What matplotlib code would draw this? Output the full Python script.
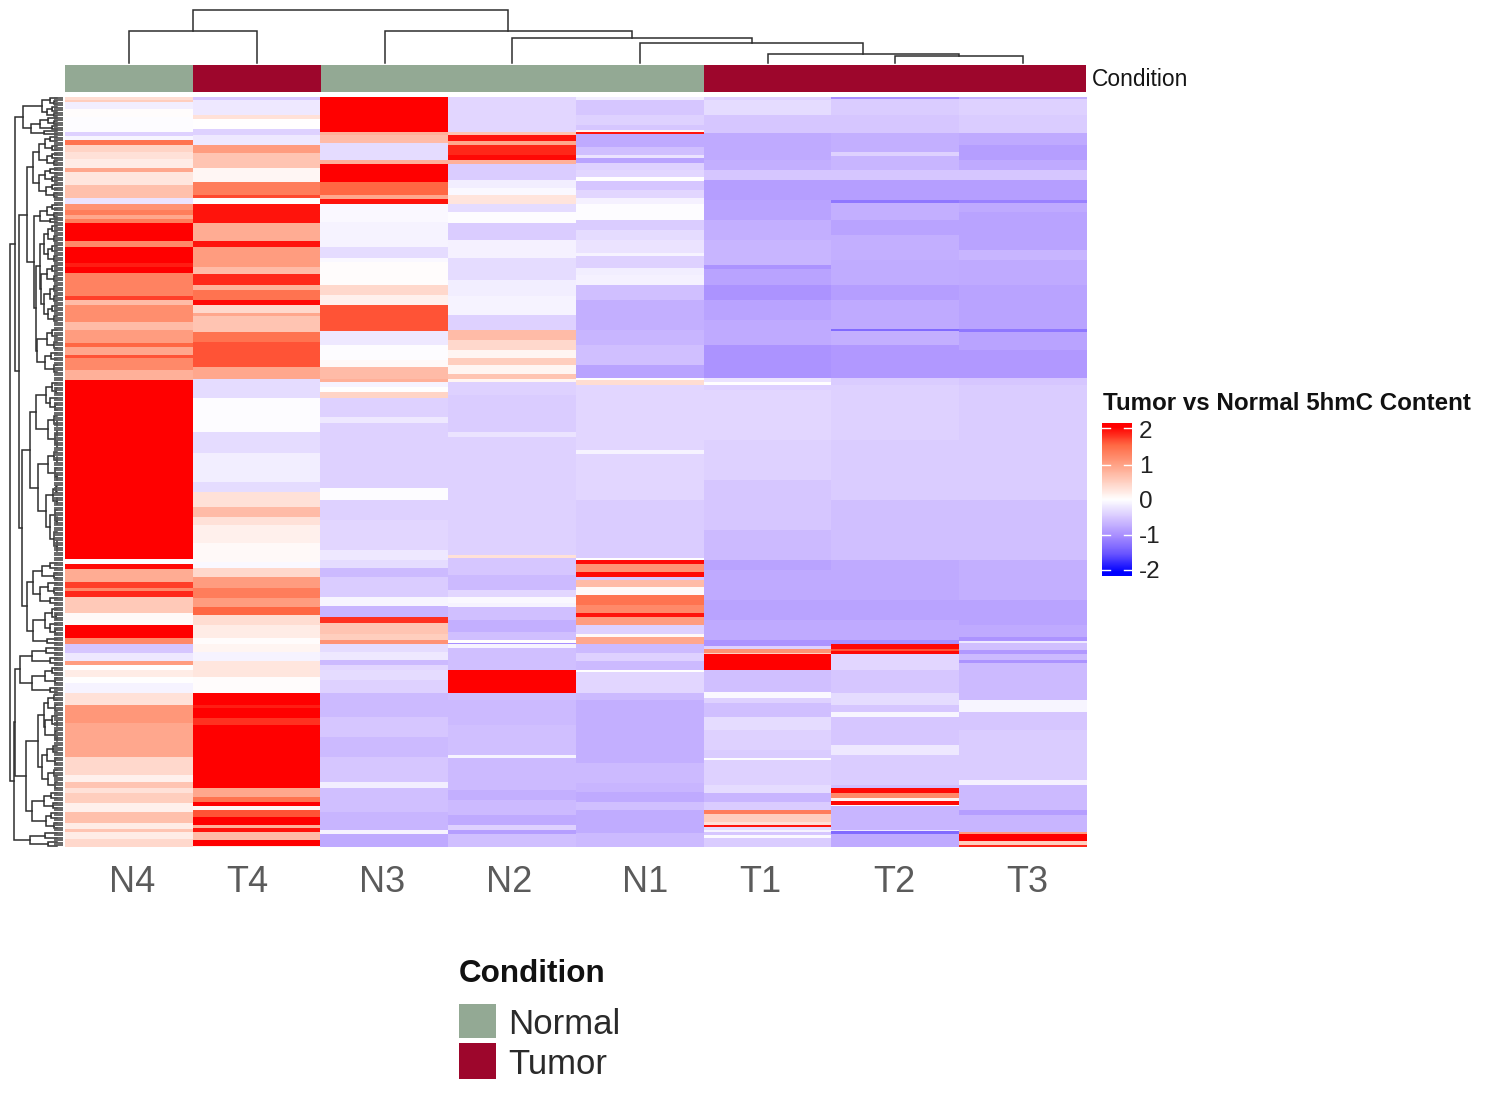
import numpy as np
import matplotlib
matplotlib.use("Agg")
import matplotlib.pyplot as plt
from matplotlib.colors import LinearSegmentedColormap

plt.rcParams['font.family'] = ['Liberation Sans', 'DejaVu Sans']

samples = ['N4', 'T4', 'N3', 'N2', 'N1', 'T1', 'T2', 'T3']
conditions = ['Normal', 'Tumor', 'Normal', 'Normal', 'Normal', 'Tumor', 'Tumor', 'Tumor']
total_rows = 750

# every band: (last row of the band, scaled value)
N4 = [(3,.35),(5,.5),(12,-.15),(20,.03),(35,-.03),(39,-.4),(43,-.08),(48,1.4),(55,.45),(62,.3),(71,.2),(75,.9),(88,.25),(101,.65),(107,-.25),(113,1.1),(118,1.3),(122,.9),(126,1.3),(144,2),(150,1.2),(166,2),(170,1.85),(176,2),(199,1.25),(203,1.7),(208,.7),(225,1.15),(233,.7),(246,1.0),(250,1.5),(258,.9),(261,1.6),(273,1.2),(283,.8),(462,2),(467,-.02),(472,1.95),(485,.85),(491,1.7),(494,1.2),(500,1.8),(516,.55),(528,.05),(541,2),(547,1.2),(556,-.5),(564,-.2),(568,1.0),(573,0),(580,.2),(586,0),(596,-.1),(608,.3),(626,1.05),(660,.9),(678,.4),(685,.15),(691,.6),(696,.3),(706,.5),(715,.15),(726,.65),(732,.2),(735,.6),(742,.2),(750,.4)]
T4 = [(3,-.5),(18,-.2),(22,.3),(32,0),(38,-.4),(48,-.2),(56,1),(71,.6),(85,.08),(98,1.3),(101,1.65),(107,0),(126,1.9),(144,.85),(150,1.9),(170,1.0),(177,.7),(188,1.8),(193,.8),(203,1.4),(208,1.95),(216,.4),(219,.9),(235,.6),(245,1.4),(270,1.6),(282,.9),(301,-.3),(335,-.02),(356,-.3),(385,-.15),(395,-.3),(410,.3),(420,.7),(428,.3),(446,.15),(465,.05),(471,-.05),(480,.4),(491,1.0),(501,1.3),(510,1.0),(518,1.5),(528,.35),(541,.2),(547,.02),(555,.1),(564,-.1),(580,.25),(596,.03),(608,2),(611,1.85),(621,2),(628,1.75),(691,2),(700,.9),(705,1.4),(709,2),(713,.1),(720,1.6),(728,2),(731,.8),(735,1.9),(743,.7),(749,2),(750,.2)]
N3 = [(35,2),(38,.8),(46,.7),(63,-.3),(67,.8),(85,2),(98,1.5),(102,.9),(107,1.9),(125,-.05),(150,-.1),(161,-.3),(165,-.05),(188,.03),(198,.4),(208,.15),(234,1.6),(248,-.2),(263,-.02),(270,.05),(282,.7),(285,.8),(290,-.1),(295,0),(301,.45),(320,-.4),(326,-.2),(391,-.4),(403,-.03),(423,-.4),(453,-.35),(463,-.2),(471,-.3),(480,-.6),(500,-.45),(509,-.08),(520,-.65),(526,1.75),(537,.6),(543,.5),(547,1.1),(555,-.3),(563,-.2),(568,-.6),(573,-.35),(583,-.3),(596,-.4),(620,-.6),(640,-.5),(660,-.6),(685,-.5),(691,-.15),(715,-.55),(733,-.65),(737,-.1),(750,-.75)]
N2 = [(35,-.35),(38,.6),(44,1.9),(48,.9),(58,1.8),(63,1.95),(67,.8),(83,-.45),(91,-.15),(98,-.05),(107,.28),(115,-.3),(126,-.02),(143,-.45),(161,-.12),(183,-.3),(199,-.15),(218,-.1),(233,-.4),(243,.7),(253,.4),(261,.1),(268,.5),(277,.1),(282,.6),(285,.1),(298,-.4),(335,-.45),(340,-.25),(458,-.4),(461,.3),(478,-.5),(493,-.6),(500,-.35),(506,-.05),(510,-.1),(523,-.55),(535,-.7),(543,-.55),(546,0),(547,-1),(551,-.1),(573,-.55),(596,2),(603,-.55),(628,-.6),(658,-.55),(661,-.1),(693,-.6),(703,-.7),(718,-.6),(728,-.75),(733,-.4),(737,-.85),(750,-.55)]
N1 = [(3,-.15),(18,-.5),(28,-.4),(33,-.5),(35,.1),(37,1.9),(50,-.75),(58,-.55),(61,-.25),(66,-.8),(73,-.4),(80,-.35),(84,0),(93,-.5),(101,-.35),(107,-.12),(123,-.02),(133,-.45),(143,-.3),(156,-.25),(159,-.1),(171,-.4),(178,-.15),(188,-.12),(203,-.55),(233,-.7),(248,-.65),(268,-.55),(281,-.8),(283,0),(288,.35),(353,-.35),(357,-.1),(403,-.35),(461,-.45),(463,0),(467,1.95),(475,1.1),(480,1.95),(483,-.5),(490,.7),(498,.05),(508,1.4),(516,1.2),(520,1.9),(528,1.0),(537,-.4),(540,.05),(547,.9),(556,-.6),(564,-.4),(573,-.6),(575,0),(596,-.35),(603,-.6),(666,-.7),(686,-.6),(695,-.65),(705,-.75),(713,-.55),(736,-.72),(750,-.6)]
T1 = [(3,-.4),(18,-.3),(36,-.5),(63,-.75),(73,-.7),(83,-.5),(103,-.85),(123,-.8),(143,-.7),(168,-.65),(172,-.95),(188,-.8),(203,-.95),(223,-.8),(248,-.75),(281,-.95),(285,-.25),(288,0),(293,-.4),(343,-.35),(383,-.4),(433,-.5),(463,-.6),(473,-.8),(503,-.75),(523,-.8),(543,-.75),(549,-.95),(552,-.4),(556,1.1),(557,.5),(573,2),(595,-.55),(601,-.05),(606,-.4),(620,-.55),(633,-.3),(653,-.4),(661,-.45),(663,-.02),(688,-.4),(696,-.3),(705,-.65),(713,-.45),(717,1.3),(725,.5),(728,.3),(730,1.9),(733,-.3),(735,-.1),(738,-.5),(741,-.05),(750,-.45)]
T2 = [(2,-1.0),(18,-.45),(36,-.5),(55,-.7),(59,-.4),(73,-.65),(83,-.5),(103,-.85),(106,-1.2),(123,-.7),(138,-.8),(163,-.7),(188,-.72),(203,-.85),(232,-.75),(234,-1.3),(248,-.7),(281,-.9),(288,-.45),(343,-.4),(403,-.45),(463,-.55),(503,-.75),(523,-.8),(543,-.75),(547,-1.0),(552,1.95),(554,1.6),(557,1.95),(573,-.35),(596,-.5),(608,-.3),(615,-.5),(620,-.08),(648,-.5),(658,-.2),(668,-.45),(688,-.45),(691,-.55),(696,1.95),(701,1.2),(704,.1),(708,1.95),(709,.05),(733,-.65),(734,-.2),(737,-1.3),(750,-.75)]
T3 = [(2,-.7),(18,-.4),(36,-.45),(48,-.75),(63,-.85),(73,-.75),(83,-.5),(103,-.85),(106,-1.1),(115,-.75),(153,-.8),(163,-.65),(188,-.75),(232,-.8),(235,-1.2),(253,-.8),(281,-.9),(288,-.5),(403,-.45),(463,-.55),(503,-.7),(528,-.8),(540,-.75),(544,-.95),(546,-.2),(553,-.55),(557,-.9),(563,-.6),(566,-.95),(603,-.6),(615,-.08),(633,-.5),(683,-.45),(688,-.12),(713,-.6),(718,-.85),(735,-.65),(737,1.0),(744,2),(748,.5),(750,1.8)]
columns = [N4, T4, N3, N2, N1, T1, T2, T3]

# column tree: (left leaf, right leaf, merge height, left stem end, right stem end), in picture pixels
col_links = [
    (895, 1022.5, 56, 63, 63),
    (767.5, 958.75, 54, 63, 56),
    (640, 863, 43, 63, 54),
    (512, 751.5, 38, 63, 43),
    (384.5, 631.75, 31, 63, 38),
    (129, 257, 31, 63, 63),
    (193, 508, 10, 31, 31),
]

# row tree: (merge x, upper child, lower child); a bare number is a leaf row in picture pixels
G1 = (23,(42,(50,98,(54,101,104)),(47,(52,107,111),(54,113,116))),(31,(40,(48,118,(54,121,124)),(52,126,129)),(44,131,134)))
G2 = (33,(39,(45,(50,137,141),(52,146,150)),(47,(52,154,158),(54,161,165))),(39,(45,(50,169,173),(52,177,181)),(46,(52,185,189),(54,193,197))))
I = (40,(47,(52,205,209),(54,213,217)),(50,219,222))
K1 = (44,(48,(52,226,231),(54,236,241)),(48,(52,246,251),(54,256,261)))
K2 = (41,(47,(52,266,271),(54,276,281)),(44,(50,(54,286,291),(54,296,301)),(48,(52,306,311),(54,316,321))))
K3 = (37,(47,(52,330,336),(54,342,348)),(45,(51,353,359),(54,365,372)))
H = (34,I,(36,(40,K1,K2),K3))
RED = (30,(36,(46,(52,383,(56,388,393)),(50,398,(55,404,410))),(48,(54,416,(57,421,426)),(55,(57,431,436),(57,441,447)))),(38,(48,(54,452,(57,457,462)),(55,468,(57,474,480))),(46,(53,(56,486,492),(57,498,504)),(50,(55,510,(57,517,524)),(54,532,(57,541,551))))))
BLK = (27,(33,(42,(50,563,568),(54,573,578)),(40,(48,583,(54,588,593)),(50,598,603))),(33,(45,(52,609,(56,614,619)),(50,624,(55,629,634))),(47,639,643)))
Z11 = (20,(32,(46,648,653),(50,658,663)),(32,(45,(52,668,673),(55,678,683)),(50,688,692)))
Z121 = (38,(44,(48,(54,695,700),(55,705,711)),(45,(52,716,(57,721,726)),(55,731,(57,736,741)))),(42,(47,(53,746,752),(55,758,764)),(48,(54,770,776),(55,782,788))))
Z122 = (32,(44,(51,793,798),(53,803,808)),(46,(51,813,818),(54,823,828)))
Z2 = (30,(45,833,838),(48,842,846))
row_tree = (10,(15,G1,(19,(27,G2,H),(22,RED,BLK))),(14,(15,Z11,(26,Z121,Z122)),Z2))

legend_title = 'Condition'
bar_title = 'Tumor vs Normal 5hmC Content'
bar_ticks = [2, 1, 0, -1, -2]

cond_colors = {'Normal': '#93A994', 'Tumor': '#9D062C'}
cmap = LinearSegmentedColormap.from_list('bwr5', [
    (0.0, '#0000FF'), (0.125, '#6A55FF'), (0.25, '#A88EFF'), (0.375, '#D6C6FF'),
    (0.5, '#FFFFFF'), (0.625, '#FFCFC0'), (0.75, '#FF9E81'), (0.875, '#FF6A45'), (1.0, '#FF0000')])

W, H_PX = 1500, 1115
fig = plt.figure(figsize=(W / 100, H_PX / 100), dpi=100, facecolor='white')


def ax_px(x0, y0, x1, y1):
    ax = fig.add_axes([x0 / W, 1 - y1 / H_PX, (x1 - x0) / W, (y1 - y0) / H_PX])
    ax.set_axis_off()
    return ax


def expand(bands):
    out = np.zeros(total_rows)
    start = 0
    for end, val in bands:
        out[start:end] = val
        start = end
    return out


matrix = np.column_stack([expand(c) for c in columns])

heat = ax_px(65.4, 97, 1086.4, 847)
heat.imshow(matrix, cmap=cmap, vmin=-2, vmax=2, aspect='auto', interpolation='nearest')

bar = ax_px(65.4, 65, 1086.4, 92)
for i, c in enumerate(conditions):
    bar.bar(i, 1, width=1, bottom=0, color=cond_colors[c], linewidth=0)
bar.set_xlim(-0.5, len(samples) - 0.5)
bar.set_ylim(0, 1)

# full-figure overlay in picture pixels
ov = fig.add_axes([0, 0, 1, 1], zorder=5)
ov.set_xlim(0, W)
ov.set_ylim(H_PX, 0)
ov.set_axis_off()
ov.patch.set_alpha(0)

LINE = '#2e2e2e'
for xl, xr, h, el, er in col_links:
    ov.plot([xl, xl, xr, xr], [el, h, h, er], color=LINE, lw=1.1, solid_joinstyle='miter')


def draw_row(node):
    """Return (x, y) of a node and draw its bracket."""
    if not isinstance(node, tuple):
        return 56.5, float(node)
    x, a, b = node
    xa, ya = draw_row(a)
    xb, yb = draw_row(b)
    ov.plot([xa, x, x, xb], [ya, ya, yb, yb], color=LINE, lw=1.1, solid_joinstyle='miter')
    return x, (ya + yb) / 2


draw_row(row_tree)
leaf_rows = np.arange(97.5, 847, 2.5)
ov.hlines(leaf_rows, 54, 63, color='#555555', lw=1.25)

ov.text(1092, 80, 'Condition', fontsize=16.4, color='#151515', va='center', ha='left')

label_x = [132, 247, 382, 509, 645, 760, 894, 1027]
for name, x in zip(samples, label_x):
    ov.text(x, 882, name, fontsize=26, color='#5b5b5b', ha='center', va='center')

# colour bar
cb = ax_px(1102, 423, 1132, 576)
grad = np.linspace(2.1, -2.1, 256).reshape(-1, 1)
cb.imshow(grad, cmap=cmap, vmin=-2, vmax=2, aspect='auto', interpolation='bilinear')
tick_y = [428, 465, 500, 535, 570]
for y, t in zip(tick_y, bar_ticks):
    if t != 0:
        ov.plot([1102, 1110], [y, y], color='white', lw=1)
        ov.plot([1124, 1132], [y, y], color='white', lw=1)
label_y = [432, 467, 502, 537, 572]
for y, t in zip(label_y, bar_ticks):
    ov.text(1139, y, str(t), fontsize=17.5, color='#222222', ha='left', va='center')
ov.text(1103, 404, bar_title, fontsize=17.4, color='#111111', ha='left', va='center', fontweight='bold')

# condition legend
ov.text(459, 974, legend_title, fontsize=22.6, color='#111111', ha='left', va='center', fontweight='bold')
for y0, y1, name in [(1004, 1038, 'Normal'), (1043, 1079, 'Tumor')]:
    ov.fill_between([459, 496], y0, y1, color=cond_colors[name], linewidth=0)
    ov.text(508, (y0 + y1) / 2 + 3, name, fontsize=25, color='#2a2a2a', ha='left', va='center')

fig.savefig('out.png', dpi=100)
